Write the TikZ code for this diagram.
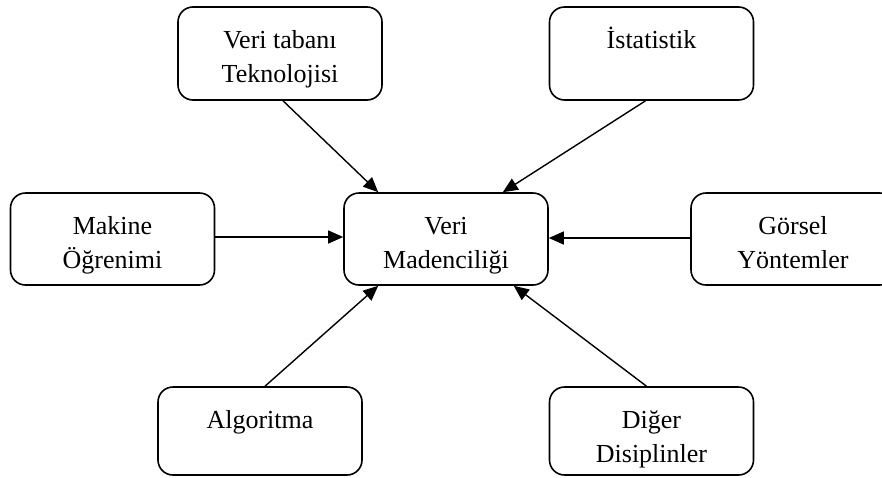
\documentclass[tikz,border=0pt]{standalone}
\usepackage{fontspec}
\setmainfont{Liberation Serif}
\usetikzlibrary{arrows.meta,positioning,calc}

\tikzset{
  box/.style={draw, line width=1.6pt, rounded corners=15pt, inner sep=0pt,
              minimum width=204pt},
  txt/.style={font=\fontsize{26}{34}\selectfont, align=center, inner sep=0pt},
  link/.style={line width=1.4pt, -{Triangle[length=15pt,width=13pt]}}
}

\begin{document}
\begin{tikzpicture}[x=1pt, y=-1pt]
  \clip (0,0) rectangle (882,477);
  \fill[white] (0,0) rectangle (882,477);

  % boxes
  \node[box, minimum height=93pt] (vt)  at (280,53.5) {};
  \node[box, minimum height=93pt] (ist) at (651.5,53.5) {};
  \node[box, minimum height=92pt] (mak) at (112.5,239) {};
  \node[box, minimum height=92pt] (vm)  at (446,239) {};
  \node[box, minimum height=92pt] (gor) at (793,239) {};
  \node[box, minimum height=88pt] (alg) at (260,431) {};
  \node[box, minimum height=88pt] (dig) at (651.5,431) {};

  % labels (a strut on the first line fixes the distance to the box top)
  \node[txt, below=18pt of vt.north]  (vtt)  {\strut Veri tabanı\\Teknolojisi};
  \node[txt, below=18pt of ist.north] (istt) {\strut İstatistik};
  \node[txt, below=18pt of mak.north] (makt) {\strut Makine\\Öğrenimi};
  \node[txt, below=18pt of vm.north]  (vmt)  {\strut Veri\\Madenciliği};
  \node[txt, below=18pt of gor.north] (gort) {\strut Görsel\\Yöntemler};
  \node[txt, below=18pt of alg.north] (algt) {\strut Algoritma};
  \node[txt, below=18pt of dig.north] (digt) {\strut Diğer\\Disiplinler};

  % connectors into the central box
  \draw[link] ($(vt.south)+(3,0)$)   -- ($(vm.north west)+(35,0)$);
  \draw[link] ($(ist.south)+(-6,0)$) -- ($(vm.north east)+(-46,0)$);
  \draw[link] (mak.east |- 0,237)    -- (vm.west |- 0,237);
  \draw[link] (gor.west |- 0,238)    -- (vm.east |- 0,238);
  \draw[link] ($(alg.north)+(5,0)$)  -- ($(vm.south west)+(35,0)$);
  \draw[link] ($(dig.north)+(-5,0)$) -- ($(vm.south east)+(-35,0)$);
\end{tikzpicture}
\end{document}
